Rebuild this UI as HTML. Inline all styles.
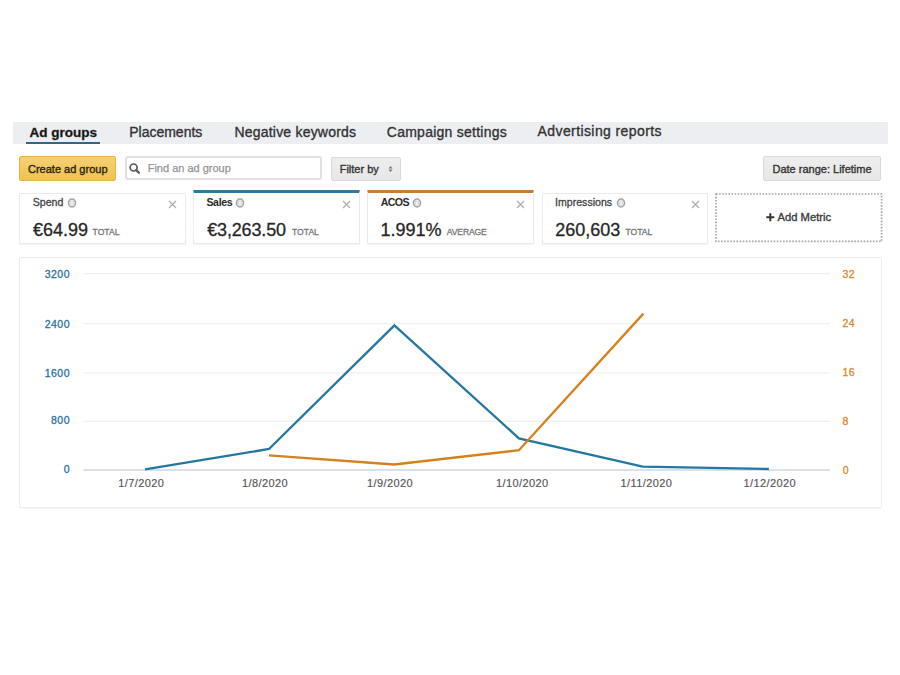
<!DOCTYPE html>
<html><head><meta charset="utf-8">
<style>
*{box-sizing:border-box;margin:0;padding:0}
html,body{width:900px;height:675px;background:#fff;overflow:hidden}
body{position:relative;font-family:"Liberation Sans",sans-serif;color:#333}
.a{position:absolute;white-space:nowrap}
.t{position:absolute;white-space:nowrap;line-height:1}
#tabs{left:13px;top:122px;width:875px;height:22px;background:#edeef2}
.tab{font-size:14px;color:#333;-webkit-text-stroke:.35px #333}
.btn{position:absolute;border-radius:2px}
.card{position:absolute;top:193px;height:51px;background:#fff;border:1px solid #ebebeb;border-radius:1px;box-shadow:0 1px 1px rgba(0,0,0,.05)}
.lbl{font-size:10.6px;color:#444;-webkit-text-stroke:.3px #444}
.val{font-size:18px;color:#272727;-webkit-text-stroke:.3px #272727}
.unit{font-size:8.6px;color:#777;-webkit-text-stroke:.3px #777}
.ic{position:absolute;width:10px;height:10px}
.x{position:absolute;width:9px;height:9px}
.ax{font-size:10.5px;letter-spacing:.5px}
.axl{color:#2a73a0;-webkit-text-stroke:.3px #2a73a0;text-align:right;margin-right:-.5px}
.axr{color:#d9872a;-webkit-text-stroke:.3px #d9872a}
.xl{font-size:11px;color:#555;letter-spacing:.4px;-webkit-text-stroke:.15px #555}
</style></head><body>

<!-- tab bar -->
<div class="a" id="tabs"></div>
<div class="t tab" style="left:29.5px;top:125.6px;font-weight:bold;color:#111;font-size:13.5px">Ad groups</div>
<div class="a" style="left:26px;top:141.5px;width:74px;height:2px;background:#2c6888"></div>
<div class="t tab" style="left:129.2px;top:125.3px">Placements</div>
<div class="t tab" style="left:234.5px;top:125.3px;letter-spacing:.2px">Negative keywords</div>
<div class="t tab" style="left:386.8px;top:125.3px;letter-spacing:.25px">Campaign settings</div>
<div class="t tab" style="left:537.6px;top:124.3px;letter-spacing:.4px">Advertising reports</div>

<!-- toolbar -->
<div class="btn" style="left:19px;top:156px;width:97px;height:25px;background:linear-gradient(#f4d076,#f2c24c);border:1px solid #e3b54a"></div>
<div class="t" style="left:28px;top:163.7px;font-size:11px;color:#2a2410;-webkit-text-stroke:.35px #2a2410">Create ad group</div>

<div class="btn" style="left:124.5px;top:156px;width:197px;height:24px;background:#fff;border:2px solid #e0e0e0;border-radius:3px"></div>
<svg class="a" style="left:128px;top:162px" width="14" height="14" viewBox="0 0 14 14"><circle cx="5.6" cy="5.5" r="3.5" fill="none" stroke="#5a5a5a" stroke-width="1.7"/><line x1="8.2" y1="8.1" x2="10.9" y2="10.8" stroke="#5a5a5a" stroke-width="2.3" stroke-linecap="round"/></svg>
<div class="t" style="left:147.7px;top:162.7px;font-size:11px;color:#959595;-webkit-text-stroke:.25px #959595">Find an ad group</div>

<div class="btn" style="left:330.5px;top:156.5px;width:70px;height:24.5px;background:linear-gradient(#eeeeee,#e7e7e7);border:1px solid #dadada"></div>
<div class="t" style="left:339.7px;top:163.7px;font-size:11px;color:#333;-webkit-text-stroke:.35px #333">Filter by</div>
<svg class="a" style="left:387px;top:165px" width="7" height="8" viewBox="0 0 7 8"><path d="M3.5 1 L5.5 3.4 L1.5 3.4Z M3.5 7 L5.5 4.6 L1.5 4.6Z" fill="#777"/></svg>

<div class="btn" style="left:763.3px;top:156.3px;width:117.5px;height:25px;background:linear-gradient(#eeeeee,#e7e7e7);border:1px solid #dadada"></div>
<div class="t" style="left:772.5px;top:163.7px;font-size:11px;color:#333;-webkit-text-stroke:.35px #333">Date range: Lifetime</div>

<!-- cards -->
<div class="card" style="left:19px;width:166.6px"></div>
<div class="card" style="left:193px;width:166.6px;border-top:3px solid #3278a0;top:190px;height:54px"></div>
<div class="card" style="left:367.3px;width:166.6px;border-top:3px solid #c57f38;top:190px;height:54px"></div>
<div class="card" style="left:541.6px;width:166.4px"></div>
<svg class="a" style="left:714px;top:192px" width="170" height="52"><rect x="2" y="2" width="165.6" height="47.4" fill="none" stroke="#a5a5a5" stroke-width="1.7" stroke-dasharray="1.6 1.5"/></svg>

<div class="t lbl" style="left:32.7px;top:197px">Spend</div>
<svg class="ic" style="left:66.5px;top:198.0px" viewBox="0 0 10 10"><ellipse cx="5" cy="5" rx="3.6" ry="4" fill="#dedede" stroke="#a4a4a4" stroke-width="1.4"/><rect x="4.3" y="4.2" width="1.4" height="3.2" fill="#f4f4f4"/><rect x="4.3" y="2.3" width="1.4" height="1.2" fill="#f4f4f4"/></svg>
<div class="t lbl" style="left:206.4px;top:197px;font-weight:bold;color:#2a2a2a;letter-spacing:-.35px;-webkit-text-stroke:0">Sales</div>
<svg class="ic" style="left:235.3px;top:198.0px" viewBox="0 0 10 10"><ellipse cx="5" cy="5" rx="3.6" ry="4" fill="#dedede" stroke="#a4a4a4" stroke-width="1.4"/><rect x="4.3" y="4.2" width="1.4" height="3.2" fill="#f4f4f4"/><rect x="4.3" y="2.3" width="1.4" height="1.2" fill="#f4f4f4"/></svg>
<div class="t lbl" style="left:380.8px;top:197px;font-weight:bold;color:#2a2a2a;letter-spacing:-.65px;-webkit-text-stroke:0">ACOS</div>
<svg class="ic" style="left:411.8px;top:197.8px" viewBox="0 0 10 10"><ellipse cx="5" cy="5" rx="3.6" ry="4" fill="#dedede" stroke="#a4a4a4" stroke-width="1.4"/><rect x="4.3" y="4.2" width="1.4" height="3.2" fill="#f4f4f4"/><rect x="4.3" y="2.3" width="1.4" height="1.2" fill="#f4f4f4"/></svg>
<div class="t lbl" style="left:555px;top:197px">Impressions</div>
<svg class="ic" style="left:615.7px;top:197.8px" viewBox="0 0 10 10"><ellipse cx="5" cy="5" rx="3.6" ry="4" fill="#dedede" stroke="#a4a4a4" stroke-width="1.4"/><rect x="4.3" y="4.2" width="1.4" height="3.2" fill="#f4f4f4"/><rect x="4.3" y="2.3" width="1.4" height="1.2" fill="#f4f4f4"/></svg>


<svg class="x" style="left:168.1px;top:200.2px" viewBox="0 0 9 9"><path d="M1 1L8 8M8 1L1 8" stroke="#adadad" stroke-width="1.2"/></svg>
<svg class="x" style="left:342.1px;top:200.2px" viewBox="0 0 9 9"><path d="M1 1L8 8M8 1L1 8" stroke="#adadad" stroke-width="1.2"/></svg>
<svg class="x" style="left:516.0px;top:200.2px" viewBox="0 0 9 9"><path d="M1 1L8 8M8 1L1 8" stroke="#adadad" stroke-width="1.2"/></svg>
<svg class="x" style="left:690.5px;top:200.2px" viewBox="0 0 9 9"><path d="M1 1L8 8M8 1L1 8" stroke="#adadad" stroke-width="1.2"/></svg>
<div class="t val" style="left:33px;top:220.5px">€64.99</div>
<div class="t unit" style="left:92.6px;top:228px">TOTAL</div>
<div class="t val" style="left:207.2px;top:220.5px;letter-spacing:-.15px">€3,263.50</div>
<div class="t unit" style="left:292px;top:228px">TOTAL</div>
<div class="t val" style="left:380.4px;top:220.5px">1.991%</div>
<div class="t unit" style="left:446.8px;top:228px;letter-spacing:-.15px">AVERAGE</div>
<div class="t val" style="left:555.3px;top:220.5px">260,603</div>
<div class="t unit" style="left:625.4px;top:228px">TOTAL</div>

<svg class="a" style="left:765.8px;top:213px" width="9" height="9" viewBox="0 0 9 9"><path d="M4.3 0.3V8.3M0.3 4.3H8.3" stroke="#333" stroke-width="2"/></svg>
<div class="t" style="left:777.6px;top:211.8px;font-size:11.2px;color:#3c3c3c;-webkit-text-stroke:.35px #3c3c3c">Add Metric</div>

<!-- chart -->
<div class="a" style="left:18.5px;top:257px;width:863px;height:251px;border:1px solid #ededed;border-radius:1px;box-shadow:0 1px 1px rgba(0,0,0,.03)"></div>
<svg class="a" style="left:0;top:0" width="900" height="675" viewBox="0 0 900 675">
 <g stroke="#f0f0f0" stroke-width="1.2">
  <line x1="83.5" y1="273.7" x2="830" y2="273.7"/>
  <line x1="83.5" y1="323.6" x2="830" y2="323.6"/>
  <line x1="83.5" y1="372.8" x2="830" y2="372.8"/>
  <line x1="83.5" y1="421.3" x2="830" y2="421.3"/>
 </g>
 <line x1="83.5" y1="470" x2="830" y2="470" stroke="#ccd8e0" stroke-width="1.6"/>
 <polyline fill="none" stroke="#2377a1" stroke-width="2.35" stroke-linejoin="miter" points="145,469.4 269,449 394.4,325.3 518.9,438.3 642.7,466.7 768.9,469"/>
 <polyline fill="none" stroke="#d5821e" stroke-width="2.35" stroke-linejoin="miter" points="269,455.4 394.2,464.5 518.9,450.2 643.4,313.6"/>
</svg>

<div class="t ax axl" style="left:30px;width:40px;top:268.8px">3200</div>
<div class="t ax axl" style="left:30px;width:40px;top:318.8px">2400</div>
<div class="t ax axl" style="left:30px;width:40px;top:367.8px">1600</div>
<div class="t ax axl" style="left:30px;width:40px;top:415.4px">800</div>
<div class="t ax axl" style="left:30px;width:40px;top:464.1px">0</div>

<div class="t ax axr" style="left:842.4px;top:269.4px">32</div>
<div class="t ax axr" style="left:842.4px;top:318.4px">24</div>
<div class="t ax axr" style="left:842.4px;top:367.4px">16</div>
<div class="t ax axr" style="left:842.4px;top:416.4px">8</div>
<div class="t ax axr" style="left:842.7px;top:465.4px">0</div>

<div class="t xl" style="left:118.2px;top:478.3px">1/7/2020</div>
<div class="t xl" style="left:242px;top:478.3px">1/8/2020</div>
<div class="t xl" style="left:367px;top:478.3px">1/9/2020</div>
<div class="t xl" style="left:496px;top:478.3px">1/10/2020</div>
<div class="t xl" style="left:620.6px;top:478.3px">1/11/2020</div>
<div class="t xl" style="left:743.6px;top:478.3px">1/12/2020</div>

</body></html>
